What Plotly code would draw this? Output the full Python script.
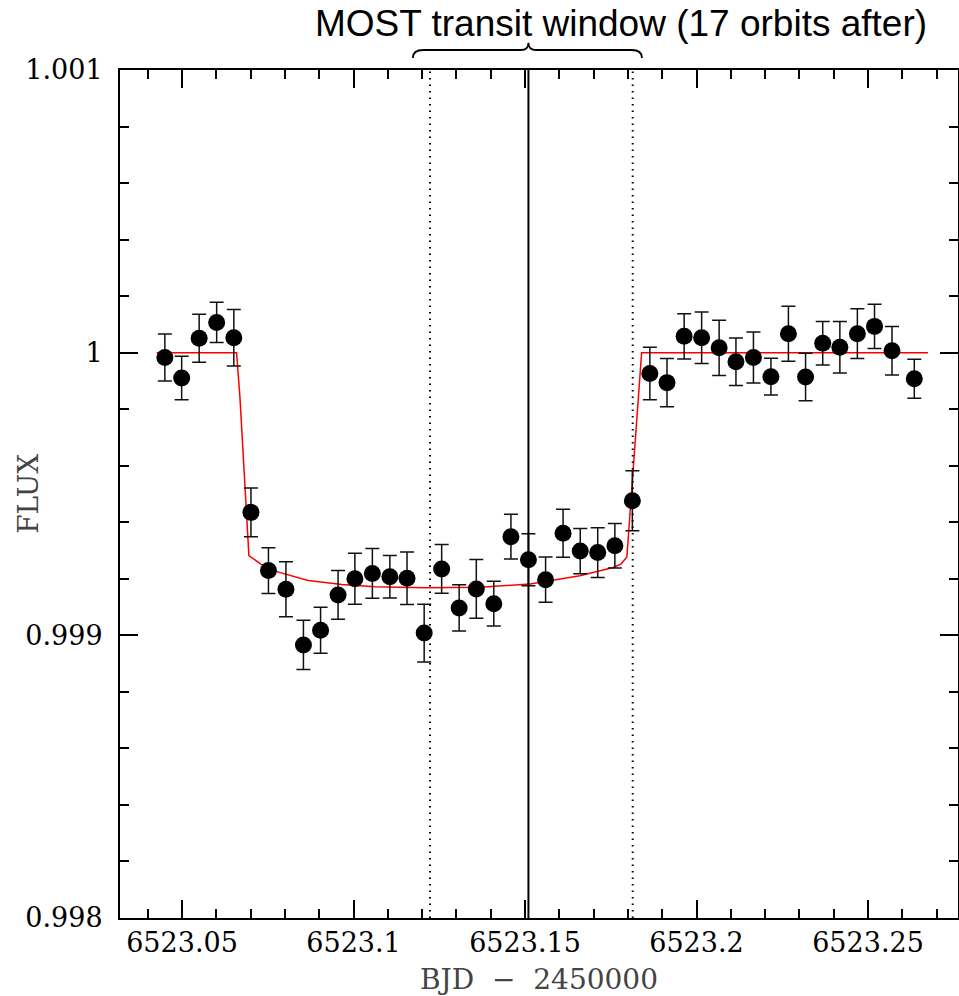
import plotly.graph_objects as go

# ---- data ----
time_bjd = [6523.0450, 6523.0499, 6523.0550, 6523.0601, 6523.0651, 6523.0701, 6523.0752,
            6523.0803, 6523.0854, 6523.0904, 6523.0955, 6523.1004, 6523.1055, 6523.1106,
            6523.1156, 6523.1206, 6523.1257, 6523.1308, 6523.1358, 6523.1409, 6523.1459,
            6523.1510, 6523.1560, 6523.1611, 6523.1661, 6523.1712, 6523.1762, 6523.1813,
            6523.1864, 6523.1914, 6523.1964, 6523.2015, 6523.2066, 6523.2115, 6523.2166,
            6523.2217, 6523.2268, 6523.2318, 6523.2368, 6523.2418, 6523.2469, 6523.2519,
            6523.2570, 6523.2635]
flux = [0.999983, 0.999910, 1.000051, 1.000107, 1.000053, 0.999435, 0.999229,
        0.999163, 0.998966, 0.999018, 0.999143, 0.999200, 0.999219, 0.999207,
        0.999202, 0.999008, 0.999235, 0.999097, 0.999164, 0.999112, 0.999349,
        0.999267, 0.999197, 0.999361, 0.999298, 0.999293, 0.999317, 0.999476,
        0.999926, 0.999894, 1.000058, 1.000053, 1.000017, 0.999968, 0.999983,
        0.999915, 1.000067, 0.999914, 1.000033, 1.000019, 1.000067, 1.000093,
        1.000007, 0.999908]
flux_err = [0.000083, 0.000077, 0.000085, 0.000071, 0.000100, 0.000086, 0.000081,
            0.000097, 0.000087, 0.000081, 0.000086, 0.000090, 0.000088, 0.000075,
            0.000093, 0.000102, 0.000086, 0.000082, 0.000104, 0.000079, 0.000079,
            0.000092, 0.000080, 0.000085, 0.000080, 0.000088, 0.000079, 0.000106,
            0.000093, 0.000085, 0.000080, 0.000091, 0.000098, 0.000084, 0.000090,
            0.000065, 0.000097, 0.000084, 0.000077, 0.000091, 0.000088, 0.000078,
            0.000086, 0.000069]

model_time = [6523.0426, 6523.0659, 6523.0669, 6523.0695, 6523.0730, 6523.0771, 6523.0868,
              6523.0966, 6523.1063, 6523.1208, 6523.1369, 6523.1515, 6523.1563, 6523.1660,
              6523.1757, 6523.1780, 6523.1797, 6523.1840, 6523.2675]
model_flux = [1.0, 1.0, 0.99984, 0.999282, 0.999252, 0.999227, 0.999194,
              0.999180, 0.999172, 0.999168, 0.999170, 0.999182, 0.999191, 0.999211,
              0.999240, 0.999252, 0.999277, 1.0, 1.0]

window_start = 6523.1223
window_mid = 6523.1510
window_end = 6523.1814
brace_left = 6523.1173
brace_right = 6523.1841

x_ticks = [6523.05, 6523.10, 6523.15, 6523.20, 6523.25]
x_ticktext = ["6523.05", "6523.1", "6523.15", "6523.2", "6523.25"]
y_ticks = [0.998, 0.999, 1.000, 1.001]
y_ticktext = ["0.998", "0.999", "1", "1.001"]

x_range = [6523.03192, 6523.27624]
y_range = [0.998, 1.001]

title_text = "MOST transit window (17 orbits after)"
x_title = "BJD \u00a0\u2212\u00a0 2450000"
y_title = "FLUX"

fig = go.Figure()

fig.add_trace(go.Scatter(
    x=model_time, y=model_flux, mode="lines",
    line=dict(color="#ff0000", width=1.5), showlegend=False, hoverinfo="skip"))

fig.add_trace(go.Scatter(
    x=time_bjd, y=flux, mode="markers",
    marker=dict(color="black", size=17),
    error_y=dict(type="data", array=flux_err, visible=True,
                 color="#111111", thickness=1.5, width=7),
    showlegend=False))

# window lines
for xv, dash, w in [(window_start, "1.5px,5px", 2), (window_end, "1.5px,5px", 2),
                    (window_mid, "solid", 2)]:
    fig.add_shape(type="line", xref="x", yref="paper", x0=xv, x1=xv, y0=0, y1=1,
                  line=dict(color="black", width=w, dash=dash), layer="above")

# curly brace above window
yb, yh, yp = 1.0142, 1.0236, 1.0322
c = 0.0030
m = 0.0022
path = (f"M {brace_left},{yb} Q {brace_left},{yh} {brace_left + c},{yh} "
        f"L {window_mid - m},{yh} Q {window_mid},{yh} {window_mid},{yp} "
        f"Q {window_mid},{yh} {window_mid + m},{yh} "
        f"L {brace_right - c},{yh} Q {brace_right},{yh} {brace_right},{yb}")
fig.add_shape(type="path", xref="x", yref="paper", path=path,
              line=dict(color="black", width=1.8))

fig.add_annotation(text=title_text, xref="paper", yref="paper", x=0.598, y=1.055,
                   xanchor="center", yanchor="middle", showarrow=False,
                   font=dict(family="Liberation Sans, Arial", size=37, color="black"))

# y-axis title placed as rotated annotation (overlaps tick-label column like reference)
fig.add_annotation(text=y_title, xref="paper", yref="paper", x=-0.110, y=0.50,
                   xanchor="center", yanchor="middle", showarrow=False, textangle=-90,
                   font=dict(family="DejaVu Serif", size=28, color="#444444"))

axis_common = dict(
    showline=True, linecolor="black", linewidth=2, mirror="allticks",
    ticks="inside", ticklen=18, tickwidth=1.5, tickcolor="black",
    showgrid=False, zeroline=False,
    tickfont=dict(family="DejaVu Serif", size=27, color="black"),
)

fig.update_xaxes(
    range=x_range, tickmode="array", tickvals=x_ticks, ticktext=x_ticktext,
    minor=dict(ticks="inside", ticklen=9, tickwidth=1.5, tickcolor="black",
               dtick=0.01, tick0=6523.0, showgrid=False),
    ticklabelstandoff=0,
    title=dict(text=x_title, standoff=27,
               font=dict(family="DejaVu Serif", size=28, color="#444444")),
    **axis_common)
fig.update_yaxes(
    range=y_range, tickmode="array", tickvals=y_ticks, ticktext=y_ticktext,
    minor=dict(ticks="inside", ticklen=9, tickwidth=1.5, tickcolor="black",
               dtick=0.0002, tick0=0.998, showgrid=False),
    ticklabelstandoff=10,
    **axis_common)

fig.update_layout(
    width=959, height=996,
    margin=dict(l=120, r=1, t=70, b=78, autoexpand=False),
    plot_bgcolor="white", paper_bgcolor="white",
    showlegend=False,
)

fig.write_html("out.html")
